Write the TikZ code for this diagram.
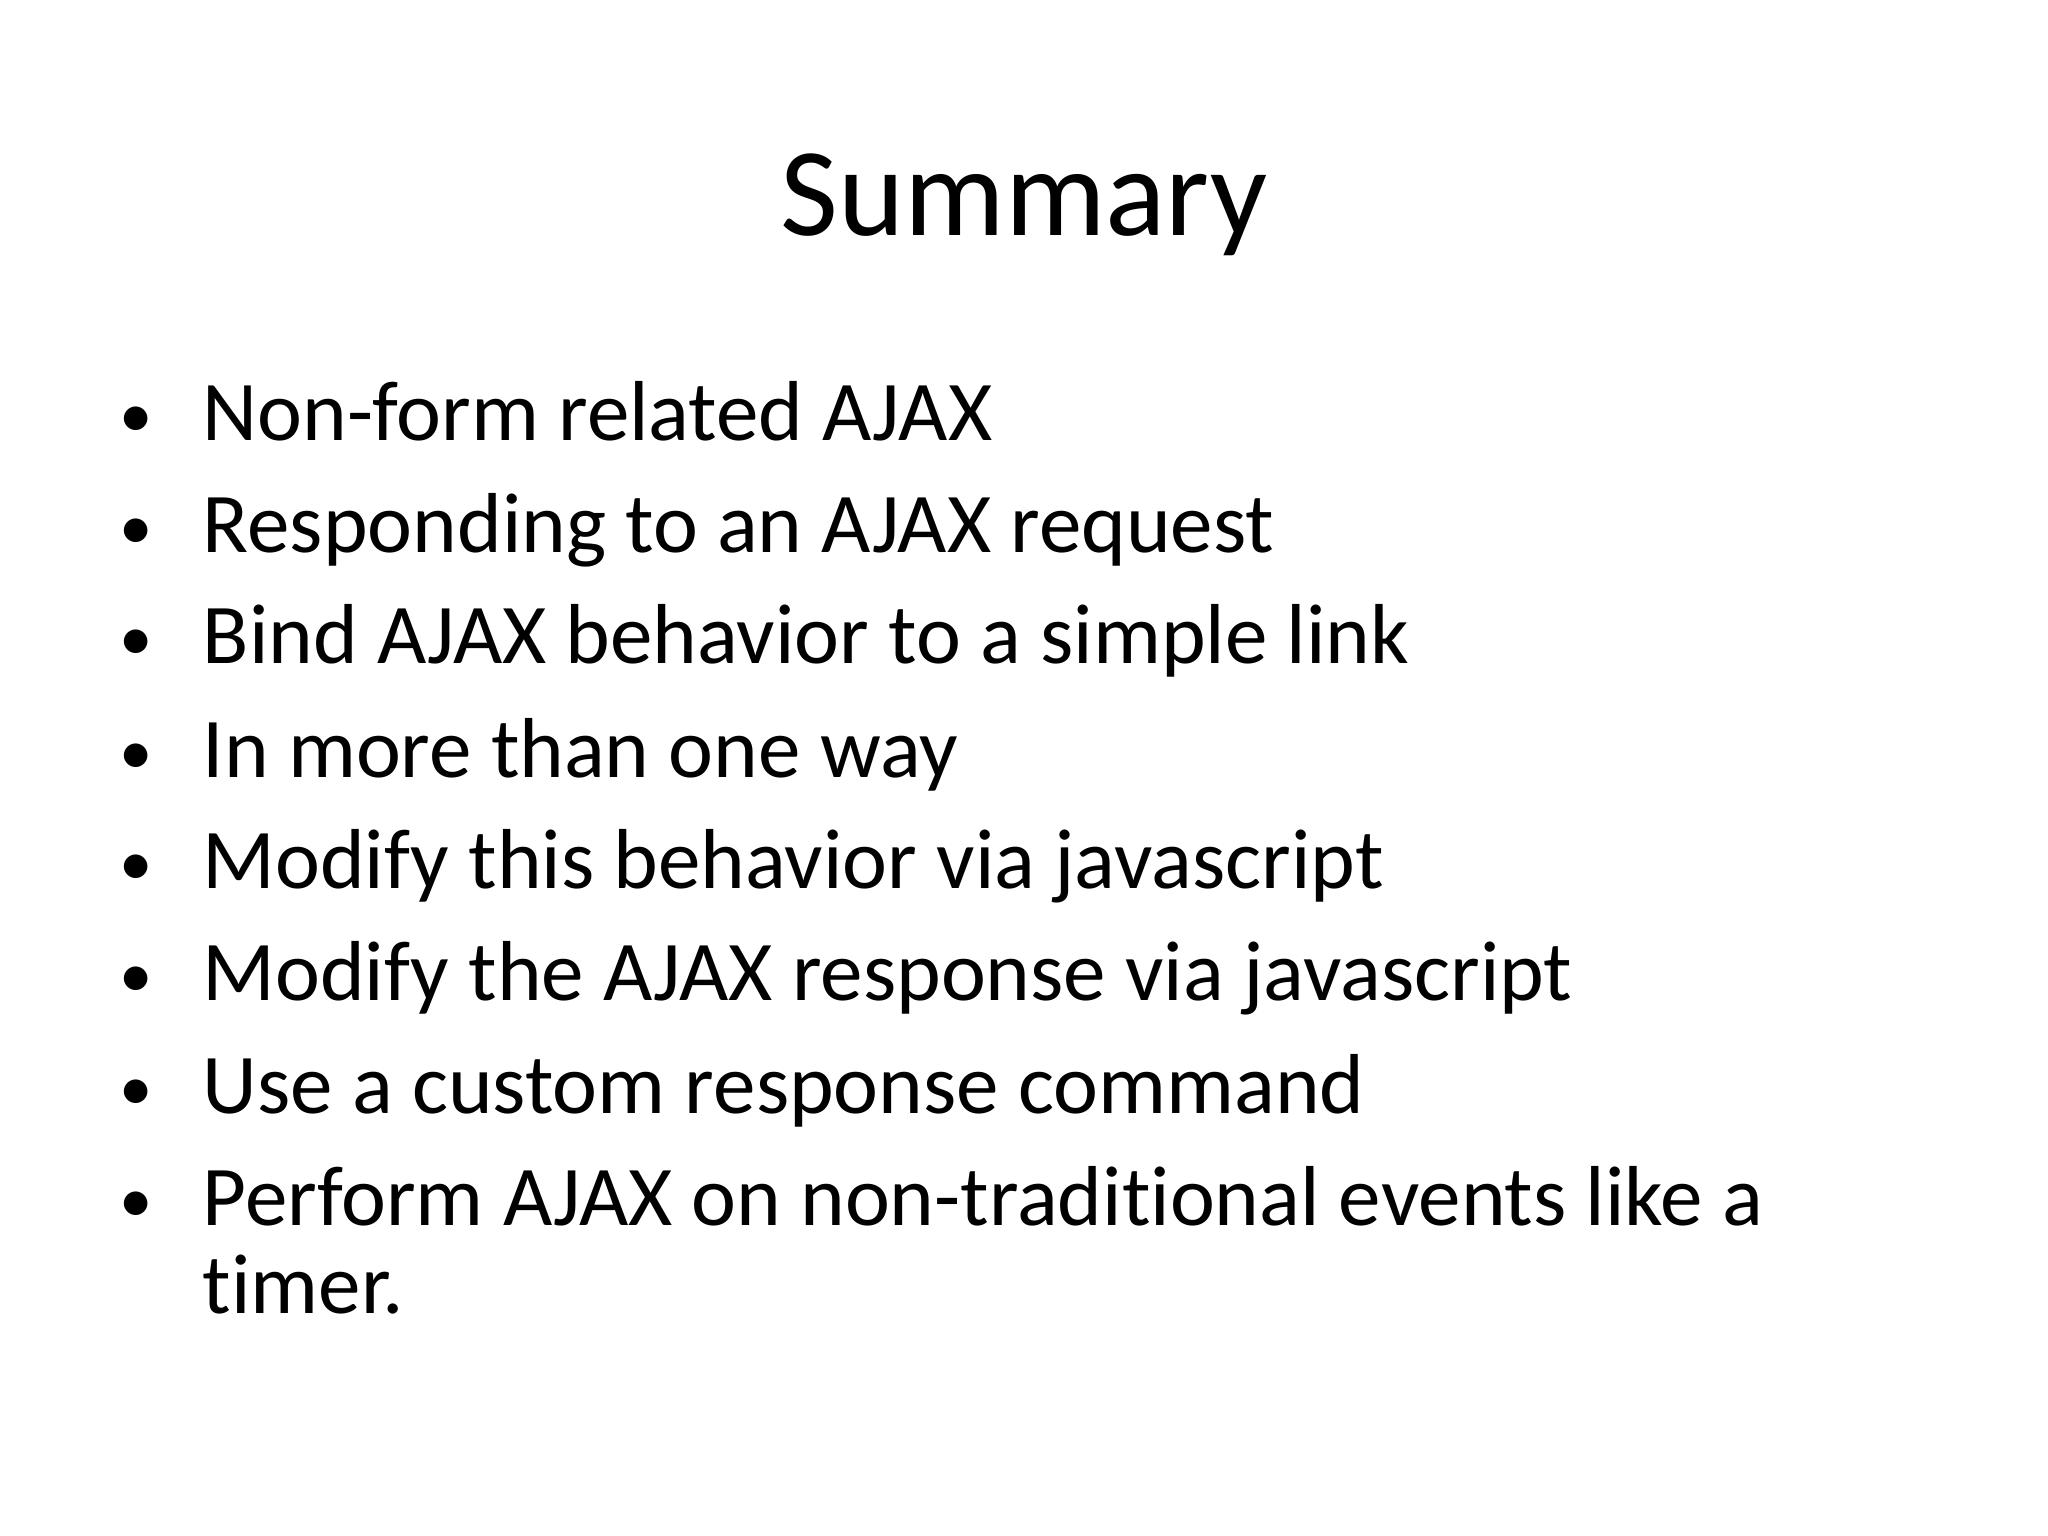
\documentclass[tikz,border=0pt]{standalone}
\usepackage{fontspec}
\setmainfont{Carlito}[Ligatures={NoCommon}]
\begin{document}
\begin{tikzpicture}[x=0.01cm,y=-0.01cm,
  item/.style={anchor=base west,inner sep=0pt,font=\fontsize{24.2}{29}\selectfont},
  dot/.style={anchor=base,inner sep=0pt,font=\fontsize{19}{29}\selectfont}]
\useasboundingbox[fill=white] (0,0) rectangle (2048,1536);
\node[anchor=base,inner sep=0pt,font=\fontsize{35.8}{43}\selectfont] (title) at (1024,235) {Summary};
\foreach \n/\y/\t in {1/440/Non-form related AJAX,
  2/552/Responding to an AJAX request,
  3/663/Bind AJAX behavior to a simple link,
  4/777/In more than one way,
  5/888/Modify this behavior via javascript,
  6/1000/Modify the AJAX response via javascript,
  7/1113/Use a custom response command,
  8/1225/Perform AJAX on non-traditional events like a}{
  \node[dot] (b\n) at (136,\y-3) {•};
  \node[item] (t\n) at (202,\y) {\t};
}
\node[item] (t9) at (202,1313) {timer.};
\end{tikzpicture}
\end{document}
